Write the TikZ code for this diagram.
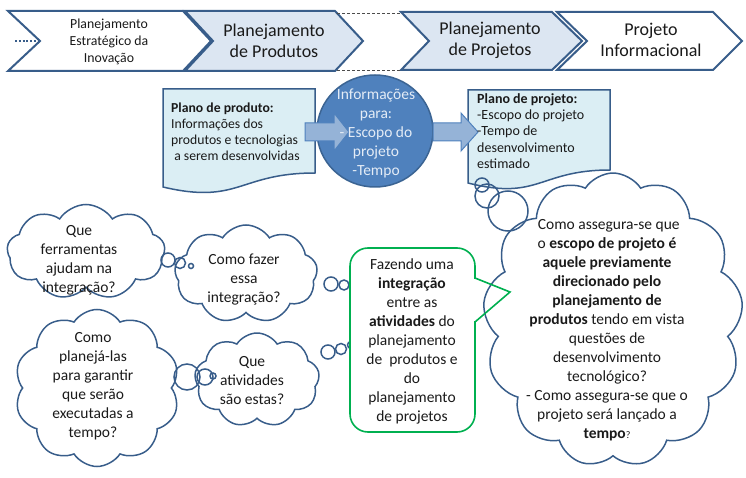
\documentclass[tikz,border=0pt]{standalone}
\usepackage{fontspec}
\setmainfont{Carlito}
\usetikzlibrary{shapes.symbols,shapes.geometric}
\definecolor{dkblue}{HTML}{385D8A}
\definecolor{chevfill}{HTML}{DCE6F2}
\definecolor{docfill}{HTML}{DBEEF4}
\definecolor{ellfill}{HTML}{4F81BD}
\definecolor{ellline}{HTML}{3B6493}
\definecolor{ellText}{HTML}{E4ECF6}
\definecolor{arrfill}{HTML}{95B3D7}
\definecolor{arrline}{HTML}{4F81BD}
\definecolor{grn}{HTML}{00B050}
\definecolor{txtc}{HTML}{1A1A1A}
\tikzset{
  chev/.style={draw=dkblue, line width=2pt, line join=miter},
  doc/.style={draw=dkblue, line width=1.5pt, fill=docfill},
  barrow/.style={draw=arrline, line width=1pt, fill=arrfill},
  thought/.style={cloud, draw=dkblue, line width=1.5pt, cloud ignores aspect, inner sep=0pt, cloud puff arc=115},
  bub/.style={draw=dkblue, line width=1.5pt},
  txt/.style={align=center, inner sep=0pt, text=txtc, font=\fontsize{15.5}{19}\selectfont},
  boxtxt/.style={align=left, inner sep=0pt, text=txtc, font=\fontsize{13.7}{16}\selectfont},
  bigtxt/.style={align=center, inner sep=0pt, text=txtc, font=\fontsize{18}{21}\selectfont},
}
\begin{document}
\begin{tikzpicture}[x=1pt,y=-1pt]
\useasboundingbox (0,0) rectangle (746,478);

% chevrons
\draw[chev, fill=white] (8,11) -- (183,11) -- (211,41) -- (183,71) -- (8,71) -- (40,41) -- cycle;
\draw[chev, fill=chevfill] (185,11) -- (335,11) -- (363,41) -- (335,71) -- (185,71) -- (213,41) -- cycle;
\draw[chev, fill=chevfill] (401,12) -- (552,12) -- (582,41) -- (552,70) -- (401,70) -- (429,41) -- cycle;
\draw[chev, fill=white] (557,12) -- (713,12) -- (742,41) -- (713,70) -- (557,70) -- (587,41) -- cycle;

\coordinate (dl1) at (15,41);
\coordinate (dl2) at (38,41);
\draw[dkblue, line width=2pt, dash pattern=on 2pt off 1.8pt] (dl1) -- (dl2);

\coordinate (pp1) at (337,13);
\coordinate (pj1) at (400,13);
\coordinate (pp2) at (337,70);
\coordinate (pj2) at (400,70);
\draw[gray!60!black, line width=0.9pt, dash pattern=on 3pt off 2pt] (pp1) -- (pj1);
\draw[gray!60!black, line width=0.9pt, dash pattern=on 3pt off 2pt] (pp2) -- (pj2);

\node[txt, font=\fontsize{13.8}{17}\selectfont] (c1) at (109,42) {Planejamento\\Estratégico da\\Inovação};
\node[bigtxt] (c2) at (274,41) {Planejamento\\de Produtos};
\node[bigtxt] (c3) at (490,40) {Planejamento\\de Projetos};
\node[bigtxt] (c4) at (651,40) {Projeto\\Informacional};

% document boxes
\draw[doc] (163,89) -- (315,89) -- (315,173) .. controls (239,173) and (239,205) .. (163,187) -- cycle;
\draw[doc] (468,90) -- (610,90) -- (610,170) .. controls (539,170) and (539,201) .. (468,183) -- cycle;
\node[boxtxt, anchor=west] (prod) at (171,132) {\textbf{Plano de produto:}\\Informações dos\\produtos e tecnologias\\\ a serem desenvolvidas};

% ellipse
\node[ellipse, draw=ellline, line width=1.5pt, fill=ellfill, minimum width=116pt, minimum height=112pt, inner sep=0pt] (ell) at (375,131) {};

% block arrows
\draw[barrow] (305,123) -- (334,123) -- (334,113) -- (349,132) -- (334,151) -- (334,141) -- (305,141) -- cycle;
\draw[barrow] (433,123) -- (461,123) -- (461,113) -- (478,132) -- (461,151) -- (461,141) -- (433,141) -- cycle;

\node[txt, text=ellText] (elltxt) at (376,133) {Informações\\para:\\- Escopo do\\projeto\\-Tempo};
\node[boxtxt, anchor=west, font=\fontsize{14}{16.2}\selectfont] (proj) at (477,131) {\textbf{Plano de projeto:}\\-Escopo do projeto\\-Tempo de\\desenvolvimento\\estimado};

% clouds
\node[thought, cloud puffs=9, minimum width=158pt, minimum height=95pt] (cA) at (86,252) {};
\node[thought, cloud puffs=9, minimum width=143pt, minimum height=98pt] (cB) at (246,274) {};
\node[thought, cloud puffs=10, minimum width=165pt, minimum height=157pt] (cC) at (97,388) {};
\node[thought, cloud puffs=9, minimum width=125pt, minimum height=94pt] (cD) at (257,380) {};
\node[thought, cloud puffs=13, minimum width=260pt, minimum height=294pt] (cE) at (613,320) {};

\node[txt] (tA) at (79,260) {Que\\ferramentas\\ajudam na\\integração?};
\node[txt] (tB) at (244,280) {Como fazer\\essa\\integração?};
\node[txt] (tC) at (93,386) {Como\\planejá-las\\para garantir\\que serão\\executadas a\\tempo?};
\node[txt] (tD) at (252,381) {Que\\atividades\\são estas?};
\node[txt] (tE) at (607,330) {\ Como assegura-se que\\o \textbf{escopo de projeto é}\\\textbf{aquele previamente}\\\textbf{direcionado pelo}\\\textbf{planejamento de}\\\textbf{produtos} tendo em vista\\questões de\\desenvolvimento\\tecnológico?\\- Como assegura-se que o\\projeto será lançado a\\\textbf{tempo}{\fontsize{10}{10}\selectfont ?}};

% thought bubbles
\draw[bub] (168,260) circle (7pt);
\draw[bub] (180,263) circle (5.5pt);
\draw[bub] (191,266) circle (2.5pt);

\draw[bub] (187,377) circle (13pt);
\draw[bub] (205,377) circle (8pt);
\draw[bub] (213,376) circle (3pt);

\draw[bub] (331,284) circle (7pt);
\draw[bub] (344,285) circle (5pt);
\draw[bub] (357,286) circle (2.5pt);

\draw[bub] (328,352) circle (7pt);
\draw[bub] (341,349) circle (5.5pt);
\draw[bub] (351,345) circle (3.5pt);
\draw[bub] (357,341) circle (2pt);

\draw[bub] (482,185) circle (7pt);
\draw[bub] (487,196) circle (12pt);
\draw[bub] (508,211) circle (20pt);

% green callout
\node[draw=grn, line width=1.6pt, fill=white, rounded corners=18pt, minimum width=125pt, minimum height=184pt, inner sep=0pt] (gbox) at (412.5,340) {};
\fill[white] (473.5,279) rectangle (477,321);
\coordinate (g1) at (475,278);
\coordinate (gtip) at (510,292);
\coordinate (g2) at (475,322);
\draw[grn, line width=1.6pt, line join=miter] (g1) -- (gtip) -- (g2);
\node[txt] (gtxt) at (412,341) {Fazendo uma\\\textbf{integração}\\entre as\\\textbf{atividades} do\\planejamento\\de\ \ produtos e\\do\\planejamento\\de projetos};

\end{tikzpicture}
\end{document}
